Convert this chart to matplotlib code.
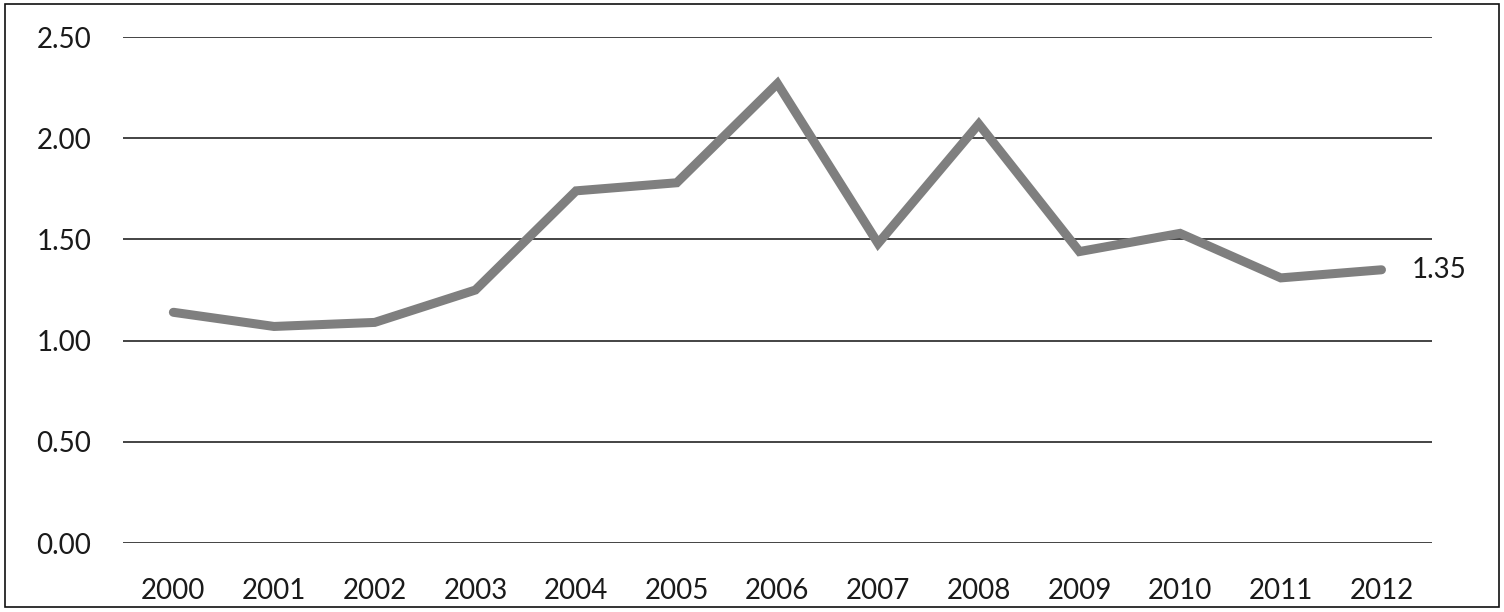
import matplotlib.pyplot as plt
from matplotlib.patches import Rectangle
import numpy as np

plt.rcParams['font.family'] = ['Lato', 'DejaVu Sans']

years = ['2000', '2001', '2002', '2003', '2004', '2005', '2006',
         '2007', '2008', '2009', '2010', '2011', '2012']
values = [1.14, 1.07, 1.09, 1.25, 1.74, 1.78, 2.27,
          1.48, 2.07, 1.44, 1.53, 1.31, 1.35]
yticks = [0.0, 0.5, 1.0, 1.5, 2.0, 2.5]

fig = plt.figure(figsize=(15.04, 6.12), dpi=100)
ax = fig.add_axes([0.0818, 0.1127, 0.8702, 0.8268])

x = np.arange(len(years))
ax.plot(x, values, color='#7f7f7f', lw=6.5, solid_capstyle='round',
        solid_joinstyle='miter', zorder=3)
ax.text(x[-1] + 0.3, values[-1], f'{values[-1]:.2f}', fontsize=20,
        va='center', ha='left', color='#1a1a1a')

ax.set_xlim(-0.5, len(years) - 0.5)
ax.set_ylim(0, 2.5)
ax.set_xticks(x)
ax.set_xticklabels(years)
ax.set_yticks(yticks)
ax.set_yticklabels([f'{v:.2f}' for v in yticks])
ax.tick_params(axis='both', length=0, labelsize=20, colors='#1a1a1a')
ax.tick_params(axis='y', pad=23)
ax.tick_params(axis='x', pad=25)
ax.grid(axis='y', color='#111111', lw=1.1)
ax.set_axisbelow(True)
for s in ax.spines.values():
    s.set_visible(False)

fig.patches.append(Rectangle((0.003, 0.008), 0.994, 0.986, transform=fig.transFigure,
                             fill=False, edgecolor='#111111', lw=1.2))

fig.savefig('out.png', dpi=100)
